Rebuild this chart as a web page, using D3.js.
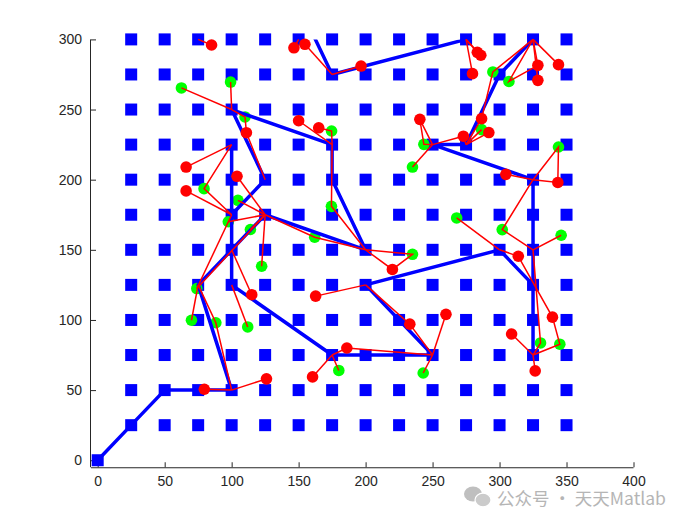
<!DOCTYPE html>
<html><head><meta charset="utf-8">
<script src="https://cdn.jsdelivr.net/npm/d3@7"></script>
<style>body{margin:0;background:#fff}svg{display:block}</style>
</head><body><div id="chart"></div>
<script>
// ---- data ----
const xTicks = [0,50,100,150,200,250,300,350,400];
const yTicks = [0,50,100,150,200,250,300];
const gridX = [25,50,75,100,125,150,175,200,225,250,275,300,325,350];
const gridY = [25,50,75,100,125,150,175,200,225,250,275,300];
const depot = [[0,0]];
const routeA = [[0,0],[25,25],[50,50],[100,50],[75,125],[100,150],[125,175],[200,150],[175,200],[175,225],[100,250],[125,200],[100,175],[100,225],[100,125],[175,75],[250,75],[200,125],[300,150],[325,125],[325,75],[325,200],[250,225],[275,225],[300,275],[325,300]];
const routeB = [[275,300],[175,275],[150,325]];
const redTargets = [[85,296],[146.5,294],[154.7,296.5],[196.6,281],[283.4,290.8],[286,288.7],[279.8,275.6],[328.6,281.5],[328.6,270.8],[344,282],[111,233.5],[150,242],[165,237],[240.5,243],[273,231],[286.6,243.5],[292,233.6],[66,209],[66,192],[104,202.4],[304.7,203.8],[343.5,198],[220,136],[314,145.4],[115,118],[162.7,117],[260,104],[233,97],[309,90],[339.5,102],[186,80],[126,58],[160.4,59.4],[79.6,50.6],[326.6,63.7]];
const greenTargets = [[62.5,265.4],[99.2,269.6],[110,244.7],[174.6,234.7],[295,276.8],[307,270],[243.5,225.2],[235,209],[286.6,235.7],[344,223.3],[79.4,193.6],[104.7,185.3],[97.5,170],[114,164.5],[122.4,138.3],[174.5,181],[162,159],[235,146.8],[268,172.7],[302,164.4],[346,160.4],[74,122.4],[70,99.8],[88.2,98],[112,95],[243,62.2],[180,64],[330.6,83.6],[345,82.7]];
const links = [
 [[75,300],[85,296]], [[150,300],[146.5,294]], [[175,275],[154.7,296.5]], [[175,275],[196.6,281]],
 [[275,300],[283.4,290.8]], [[275,300],[286,288.7]], [[275,300],[279.8,275.6]],
 [[325,300],[344,282]], [[325,300],[328.6,281.5]], [[325,300],[307,270],[328.6,281.5]], [[325,300],[328.6,270.8]],
 [[325,300],[295,276.8],[286.6,243.5]],
 [[100,250],[62.5,265.4]], [[100,250],[99.2,269.6]], [[100,250],[110,244.7],[111,233.5],[125,200]],
 [[175,225],[150,242]], [[165,237],[174.6,234.7],[175,225],[174.5,181],[200,150]],
 [[100,225],[66,209]], [[100,225],[79.4,193.6],[100,175]], [[66,192],[100,175]],
 [[104,202.4],[125,175]], [[104.7,185.3],[125,175]], [[97.5,170],[125,175]], [[114,164.5],[125,175]], [[122.4,138.3],[125,175]],
 [[74,122.4],[125,175]], [[74,122.4],[100,175]],
 [[100,150],[115,118]], [[100,125],[112,95]], [[75,125],[70,99.8]], [[75,125],[88.2,98],[100,50]],
 [[100,50],[79.6,50.6]], [[100,50],[126,58]],
 [[175,75],[160.4,59.4]], [[175,75],[180,64]], [[175,75],[186,80],[250,75]],
 [[200,125],[233,97],[250,75]], [[250,75],[260,104]], [[250,75],[243,62.2]], [[200,125],[162.7,117]],
 [[125,175],[162,159],[200,150]], [[200,150],[235,146.8],[220,136],[200,150]],
 [[250,225],[240.5,243],[243.5,225.2],[250,225]], [[250,225],[235,209]],
 [[250,225],[273,231],[275,225]], [[275,225],[286.6,243.5]], [[275,225],[286.6,235.7]], [[275,225],[292,233.6]],
 [[300,150],[268,172.7]], [[300,150],[314,145.4],[339.5,102],[345,82.7],[325,75]],
 [[325,150],[330.6,83.6],[325,75]], [[325,75],[309,90]], [[325,75],[326.6,63.7]],
 [[325,150],[302,164.4],[325,200]], [[325,150],[346,160.4]],
 [[325,200],[344,223.3],[343.5,198],[325,200]], [[325,200],[304.7,203.8]]
];

// ---- drawing ----
const W = 700, H = 525;
const L = 91, R = 633.5, T = 39.4, B = 467.25;
const x = d3.scaleLinear().domain([-5,400]).range([L,R]);
const y = d3.scaleLinear().domain([-5,300]).range([B,T]);
const svg = d3.select("#chart").append("svg").attr("width",W).attr("height",H)
  .style("font-family","'Liberation Sans', Arial, sans-serif");

svg.append("defs").append("clipPath").attr("id","ax")
  .append("rect").attr("x",L).attr("y",T).attr("width",R-L).attr("height",B-T);

// axes
const axCol = "#262626";
const xa = svg.append("g").attr("transform",`translate(0,${B})`)
  .call(d3.axisBottom(x).tickValues(xTicks).tickSize(-5).tickPadding(9).tickSizeOuter(0));
const ya = svg.append("g").attr("transform",`translate(${L},0)`)
  .call(d3.axisLeft(y).tickValues(yTicks).tickSize(-5).tickPadding(9).tickSizeOuter(0));
[xa,ya].forEach(a=>{
  a.select(".domain").attr("stroke",axCol).attr("stroke-width",1);
  a.selectAll(".tick line").attr("stroke",axCol);
  a.selectAll(".tick text").attr("fill",axCol).style("font-size","14px");
});
xa.select(".domain").attr("d",`M${L},0.5H${R}`);
ya.select(".domain").attr("d",`M-0.5,${B}V${T}`);

// grid nodes
const nodes = [];
gridY.forEach(gy=>gridX.forEach(gx=>nodes.push([gx,gy])));
const sq = 12;
svg.append("g").selectAll("rect").data(nodes.concat(depot)).join("rect")
  .attr("x",d=>x(d[0])-sq/2).attr("y",d=>y(d[1])-sq/2)
  .attr("width",sq).attr("height",sq).attr("fill","#0000ff");

// green targets
svg.append("g").selectAll("circle").data(greenTargets).join("circle")
  .attr("cx",d=>x(d[0])).attr("cy",d=>y(d[1])).attr("r",5.8).attr("fill","#00ff00");

// blue route
const line = d3.line().x(d=>x(d[0])).y(d=>y(d[1]));
const rg = svg.append("g").attr("clip-path","url(#ax)");
[routeA,routeB].forEach(r=>rg.append("path").attr("d",line(r)).attr("fill","none")
  .attr("stroke","#0000ff").attr("stroke-width",3.5).attr("stroke-linejoin","round"));

// red targets
svg.append("g").selectAll("circle").data(redTargets).join("circle")
  .attr("cx",d=>x(d[0])).attr("cy",d=>y(d[1])).attr("r",5.8).attr("fill","#ff0000");

// red assignment links
svg.append("g").selectAll("path").data(links).join("path")
  .attr("d",d=>line(d)).attr("fill","none").attr("stroke","#ff0000").attr("stroke-width",1.5);

// watermark
const wm = svg.append("g").attr("opacity",0.85);
wm.append("ellipse").attr("cx",473).attr("cy",494).attr("rx",9).attr("ry",7.5).attr("fill","#b4b4b4");
wm.append("ellipse").attr("cx",483).attr("cy",500).attr("rx",8).attr("ry",6.8).attr("fill","#c2c2c2").attr("stroke","#fff").attr("stroke-width",1.2);
wm.append("text").attr("x",497).attr("y",505).attr("fill","#a9a9a9")
  .style("font-family","'Noto Sans CJK SC', 'Liberation Sans', sans-serif").style("font-size","17.5px")
  .text("公众号 · 天天Matlab");
</script></body></html>
